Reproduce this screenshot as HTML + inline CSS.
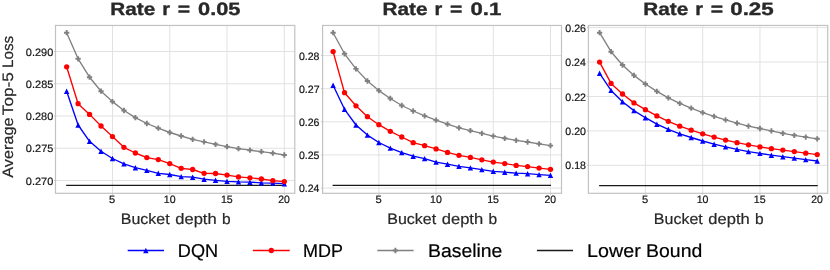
<!DOCTYPE html>
<html><head><meta charset="utf-8"><title>chart</title>
<style>html,body{margin:0;padding:0;background:#fff;}svg{display:block;will-change:transform;}</style></head>
<body>
<svg width="830" height="270" viewBox="0 0 830 270" font-family="Liberation Sans, sans-serif">
<rect width="830" height="270" fill="#fff"/>
<path d="M112.47,25.45V193.3M169.75,25.45V193.3M227.02,25.45V193.3M284.30,25.45V193.3M55.5,180.50H294.8M55.5,148.25H294.8M55.5,116.00H294.8M55.5,83.75H294.8M55.5,51.50H294.8" stroke="#e2e2e2" stroke-width="1" fill="none"/>
<path d="M112.47,193.3v1.5M169.75,193.3v1.5M227.02,193.3v1.5M284.30,193.3v1.5M55.5,180.50h-1.5M55.5,148.25h-1.5M55.5,116.00h-1.5M55.5,83.75h-1.5M55.5,51.50h-1.5" stroke="#c2c2c2" stroke-width="1" fill="none"/>
<path d="M66.15,185.4H284.80" stroke="#1a1a1a" stroke-width="1.35" fill="none"/>
<path d="M66.65,32.70L78.11,58.80L89.56,77.20L101.02,91.20L112.47,101.60L123.93,110.50L135.38,117.60L146.84,123.50L158.29,128.20L169.75,132.50L181.20,136.00L192.66,139.40L204.11,141.90L215.56,144.30L227.02,146.70L238.47,148.70L249.93,150.20L261.38,151.70L272.84,153.20L284.30,155.00" stroke="#808080" stroke-width="1.35" fill="none" stroke-linejoin="round"/>
<path d="M65.70,30.05h1.90v1.70h1.70v1.90h-1.70v1.70h-1.90v-1.70h-1.70v-1.90h1.70zM77.16,56.15h1.90v1.70h1.70v1.90h-1.70v1.70h-1.90v-1.70h-1.70v-1.90h1.70zM88.61,74.55h1.90v1.70h1.70v1.90h-1.70v1.70h-1.90v-1.70h-1.70v-1.90h1.70zM100.07,88.55h1.90v1.70h1.70v1.90h-1.70v1.70h-1.90v-1.70h-1.70v-1.90h1.70zM111.52,98.95h1.90v1.70h1.70v1.90h-1.70v1.70h-1.90v-1.70h-1.70v-1.90h1.70zM122.98,107.85h1.90v1.70h1.70v1.90h-1.70v1.70h-1.90v-1.70h-1.70v-1.90h1.70zM134.43,114.95h1.90v1.70h1.70v1.90h-1.70v1.70h-1.90v-1.70h-1.70v-1.90h1.70zM145.89,120.85h1.90v1.70h1.70v1.90h-1.70v1.70h-1.90v-1.70h-1.70v-1.90h1.70zM157.34,125.55h1.90v1.70h1.70v1.90h-1.70v1.70h-1.90v-1.70h-1.70v-1.90h1.70zM168.80,129.85h1.90v1.70h1.70v1.90h-1.70v1.70h-1.90v-1.70h-1.70v-1.90h1.70zM180.25,133.35h1.90v1.70h1.70v1.90h-1.70v1.70h-1.90v-1.70h-1.70v-1.90h1.70zM191.71,136.75h1.90v1.70h1.70v1.90h-1.70v1.70h-1.90v-1.70h-1.70v-1.90h1.70zM203.16,139.25h1.90v1.70h1.70v1.90h-1.70v1.70h-1.90v-1.70h-1.70v-1.90h1.70zM214.62,141.65h1.90v1.70h1.70v1.90h-1.70v1.70h-1.90v-1.70h-1.70v-1.90h1.70zM226.07,144.05h1.90v1.70h1.70v1.90h-1.70v1.70h-1.90v-1.70h-1.70v-1.90h1.70zM237.53,146.05h1.90v1.70h1.70v1.90h-1.70v1.70h-1.90v-1.70h-1.70v-1.90h1.70zM248.98,147.55h1.90v1.70h1.70v1.90h-1.70v1.70h-1.90v-1.70h-1.70v-1.90h1.70zM260.44,149.05h1.90v1.70h1.70v1.90h-1.70v1.70h-1.90v-1.70h-1.70v-1.90h1.70zM271.89,150.55h1.90v1.70h1.70v1.90h-1.70v1.70h-1.90v-1.70h-1.70v-1.90h1.70zM283.35,152.35h1.90v1.70h1.70v1.90h-1.70v1.70h-1.90v-1.70h-1.70v-1.90h1.70z" fill="#808080"/>
<path d="M66.65,91.20L78.11,125.00L89.56,141.30L101.02,151.20L112.47,158.50L123.93,163.90L135.38,167.70L146.84,170.40L158.29,173.30L169.75,174.50L181.20,176.60L192.66,177.20L204.11,179.20L215.56,180.30L227.02,181.30L238.47,181.90L249.93,182.20L261.38,182.80L272.84,183.10L284.30,183.70" stroke="#0000ff" stroke-width="1.35" fill="none" stroke-linejoin="round"/>
<path d="M66.65,88.50L69.35,93.90L63.95,93.90zM78.11,122.30L80.81,127.70L75.41,127.70zM89.56,138.60L92.26,144.00L86.86,144.00zM101.02,148.50L103.72,153.90L98.32,153.90zM112.47,155.80L115.17,161.20L109.77,161.20zM123.93,161.20L126.63,166.60L121.23,166.60zM135.38,165.00L138.08,170.40L132.68,170.40zM146.84,167.70L149.53,173.10L144.14,173.10zM158.29,170.60L160.99,176.00L155.59,176.00zM169.75,171.80L172.44,177.20L167.05,177.20zM181.20,173.90L183.90,179.30L178.50,179.30zM192.66,174.50L195.35,179.90L189.96,179.90zM204.11,176.50L206.81,181.90L201.41,181.90zM215.56,177.60L218.26,183.00L212.87,183.00zM227.02,178.60L229.72,184.00L224.32,184.00zM238.47,179.20L241.17,184.60L235.78,184.60zM249.93,179.50L252.63,184.90L247.23,184.90zM261.38,180.10L264.08,185.50L258.69,185.50zM272.84,180.40L275.54,185.80L270.14,185.80zM284.30,181.00L287.00,186.40L281.60,186.40z" fill="#0000ff"/>
<path d="M66.65,66.80L78.11,103.70L89.56,114.40L101.02,126.00L112.47,136.60L123.93,147.30L135.38,153.00L146.84,157.60L158.29,159.60L169.75,163.60L181.20,168.30L192.66,169.50L204.11,173.30L215.56,173.50L227.02,175.10L238.47,176.90L249.93,177.80L261.38,179.00L272.84,180.70L284.30,181.60" stroke="#ff0000" stroke-width="1.35" fill="none" stroke-linejoin="round"/>
<circle cx="66.65" cy="66.80" r="2.65" fill="#ff0000"/>
<circle cx="78.11" cy="103.70" r="2.65" fill="#ff0000"/>
<circle cx="89.56" cy="114.40" r="2.65" fill="#ff0000"/>
<circle cx="101.02" cy="126.00" r="2.65" fill="#ff0000"/>
<circle cx="112.47" cy="136.60" r="2.65" fill="#ff0000"/>
<circle cx="123.93" cy="147.30" r="2.65" fill="#ff0000"/>
<circle cx="135.38" cy="153.00" r="2.65" fill="#ff0000"/>
<circle cx="146.84" cy="157.60" r="2.65" fill="#ff0000"/>
<circle cx="158.29" cy="159.60" r="2.65" fill="#ff0000"/>
<circle cx="169.75" cy="163.60" r="2.65" fill="#ff0000"/>
<circle cx="181.20" cy="168.30" r="2.65" fill="#ff0000"/>
<circle cx="192.66" cy="169.50" r="2.65" fill="#ff0000"/>
<circle cx="204.11" cy="173.30" r="2.65" fill="#ff0000"/>
<circle cx="215.56" cy="173.50" r="2.65" fill="#ff0000"/>
<circle cx="227.02" cy="175.10" r="2.65" fill="#ff0000"/>
<circle cx="238.47" cy="176.90" r="2.65" fill="#ff0000"/>
<circle cx="249.93" cy="177.80" r="2.65" fill="#ff0000"/>
<circle cx="261.38" cy="179.00" r="2.65" fill="#ff0000"/>
<circle cx="272.84" cy="180.70" r="2.65" fill="#ff0000"/>
<circle cx="284.30" cy="181.60" r="2.65" fill="#ff0000"/>
<rect x="55.5" y="25.45" width="239.30" height="167.85" fill="none" stroke="#c2c2c2" stroke-width="1.2"/>
<text transform="translate(25.86,184.55) skewX(0.1)" font-size="10.7" fill="#141414" stroke="#141414" stroke-width="0.2" stroke-linejoin="round" textLength="27.45" lengthAdjust="spacingAndGlyphs">0.270</text>
<text transform="translate(25.86,152.30) skewX(0.1)" font-size="10.7" fill="#141414" stroke="#141414" stroke-width="0.2" stroke-linejoin="round" textLength="27.51" lengthAdjust="spacingAndGlyphs">0.275</text>
<text transform="translate(25.86,120.05) skewX(0.1)" font-size="10.7" fill="#141414" stroke="#141414" stroke-width="0.2" stroke-linejoin="round" textLength="27.45" lengthAdjust="spacingAndGlyphs">0.280</text>
<text transform="translate(25.86,87.80) skewX(0.1)" font-size="10.7" fill="#141414" stroke="#141414" stroke-width="0.2" stroke-linejoin="round" textLength="27.51" lengthAdjust="spacingAndGlyphs">0.285</text>
<text transform="translate(25.86,55.55) skewX(0.1)" font-size="10.7" fill="#141414" stroke="#141414" stroke-width="0.2" stroke-linejoin="round" textLength="27.45" lengthAdjust="spacingAndGlyphs">0.290</text>
<text transform="translate(109.12,203.00) skewX(0.1)" font-size="10.7" fill="#141414" stroke="#141414" stroke-width="0.2" stroke-linejoin="round" textLength="6.21" lengthAdjust="spacingAndGlyphs">5</text>
<text transform="translate(163.75,203.00) skewX(0.1)" font-size="10.7" fill="#141414" stroke="#141414" stroke-width="0.2" stroke-linejoin="round" textLength="11.79" lengthAdjust="spacingAndGlyphs">10</text>
<text transform="translate(220.92,203.00) skewX(0.1)" font-size="10.7" fill="#141414" stroke="#141414" stroke-width="0.2" stroke-linejoin="round" textLength="11.85" lengthAdjust="spacingAndGlyphs">15</text>
<text transform="translate(278.27,203.00) skewX(0.1)" font-size="10.7" fill="#141414" stroke="#141414" stroke-width="0.2" stroke-linejoin="round" textLength="11.61" lengthAdjust="spacingAndGlyphs">20</text>
<text transform="translate(110.35,15.20) skewX(0.1)" font-size="17.9" fill="#282828" font-weight="bold" stroke="#282828" stroke-width="0.35" stroke-linejoin="round" textLength="44.97" lengthAdjust="spacingAndGlyphs">Rate</text>
<text transform="translate(162.30,15.20) skewX(0.1)" font-size="17.9" fill="#282828" font-weight="bold" stroke="#282828" stroke-width="0.35" stroke-linejoin="round" textLength="7.78" lengthAdjust="spacingAndGlyphs">r</text>
<text transform="translate(177.76,15.20) skewX(0.1)" font-size="17.9" fill="#282828" font-weight="bold" stroke="#282828" stroke-width="0.35" stroke-linejoin="round" textLength="12.32" lengthAdjust="spacingAndGlyphs">=</text>
<text transform="translate(198.03,15.20) skewX(0.1)" font-size="17.9" fill="#282828" font-weight="bold" stroke="#282828" stroke-width="0.35" stroke-linejoin="round" textLength="42.45" lengthAdjust="spacingAndGlyphs">0.05</text>
<text transform="translate(120.72,223.50) skewX(0.1)" font-size="15.1" fill="#282828" stroke="#282828" stroke-width="0.2" stroke-linejoin="round" textLength="49.00" lengthAdjust="spacingAndGlyphs">Bucket</text>
<text transform="translate(175.24,223.50) skewX(0.1)" font-size="15.1" fill="#282828" stroke="#282828" stroke-width="0.2" stroke-linejoin="round" textLength="41.38" lengthAdjust="spacingAndGlyphs">depth</text>
<text transform="translate(221.89,223.50) skewX(0.1)" font-size="15.1" fill="#282828" stroke="#282828" stroke-width="0.2" stroke-linejoin="round" textLength="8.65" lengthAdjust="spacingAndGlyphs">b</text>
<path d="M378.87,25.45V193.3M436.08,25.45V193.3M493.29,25.45V193.3M550.50,25.45V193.3M322.6,188.10H561.5M322.6,154.95H561.5M322.6,121.80H561.5M322.6,88.65H561.5M322.6,55.50H561.5" stroke="#e2e2e2" stroke-width="1" fill="none"/>
<path d="M378.87,193.3v1.5M436.08,193.3v1.5M493.29,193.3v1.5M550.50,193.3v1.5M322.6,188.10h-1.5M322.6,154.95h-1.5M322.6,121.80h-1.5M322.6,88.65h-1.5M322.6,55.50h-1.5" stroke="#c2c2c2" stroke-width="1" fill="none"/>
<path d="M332.60,185.4H551.00" stroke="#1a1a1a" stroke-width="1.35" fill="none"/>
<path d="M333.10,32.70L344.54,53.80L355.98,68.90L367.43,81.00L378.87,90.60L390.31,98.50L401.75,105.50L413.19,111.00L424.64,115.90L436.08,120.20L447.52,124.20L458.96,127.80L470.40,130.70L481.85,133.40L493.29,136.10L504.73,138.30L516.17,140.40L527.61,142.00L539.06,143.80L550.50,145.60" stroke="#808080" stroke-width="1.35" fill="none" stroke-linejoin="round"/>
<path d="M332.15,30.05h1.90v1.70h1.70v1.90h-1.70v1.70h-1.90v-1.70h-1.70v-1.90h1.70zM343.59,51.15h1.90v1.70h1.70v1.90h-1.70v1.70h-1.90v-1.70h-1.70v-1.90h1.70zM355.03,66.25h1.90v1.70h1.70v1.90h-1.70v1.70h-1.90v-1.70h-1.70v-1.90h1.70zM366.48,78.35h1.90v1.70h1.70v1.90h-1.70v1.70h-1.90v-1.70h-1.70v-1.90h1.70zM377.92,87.95h1.90v1.70h1.70v1.90h-1.70v1.70h-1.90v-1.70h-1.70v-1.90h1.70zM389.36,95.85h1.90v1.70h1.70v1.90h-1.70v1.70h-1.90v-1.70h-1.70v-1.90h1.70zM400.80,102.85h1.90v1.70h1.70v1.90h-1.70v1.70h-1.90v-1.70h-1.70v-1.90h1.70zM412.24,108.35h1.90v1.70h1.70v1.90h-1.70v1.70h-1.90v-1.70h-1.70v-1.90h1.70zM423.69,113.25h1.90v1.70h1.70v1.90h-1.70v1.70h-1.90v-1.70h-1.70v-1.90h1.70zM435.13,117.55h1.90v1.70h1.70v1.90h-1.70v1.70h-1.90v-1.70h-1.70v-1.90h1.70zM446.57,121.55h1.90v1.70h1.70v1.90h-1.70v1.70h-1.90v-1.70h-1.70v-1.90h1.70zM458.01,125.15h1.90v1.70h1.70v1.90h-1.70v1.70h-1.90v-1.70h-1.70v-1.90h1.70zM469.45,128.05h1.90v1.70h1.70v1.90h-1.70v1.70h-1.90v-1.70h-1.70v-1.90h1.70zM480.90,130.75h1.90v1.70h1.70v1.90h-1.70v1.70h-1.90v-1.70h-1.70v-1.90h1.70zM492.34,133.45h1.90v1.70h1.70v1.90h-1.70v1.70h-1.90v-1.70h-1.70v-1.90h1.70zM503.78,135.65h1.90v1.70h1.70v1.90h-1.70v1.70h-1.90v-1.70h-1.70v-1.90h1.70zM515.22,137.75h1.90v1.70h1.70v1.90h-1.70v1.70h-1.90v-1.70h-1.70v-1.90h1.70zM526.66,139.35h1.90v1.70h1.70v1.90h-1.70v1.70h-1.90v-1.70h-1.70v-1.90h1.70zM538.11,141.15h1.90v1.70h1.70v1.90h-1.70v1.70h-1.90v-1.70h-1.70v-1.90h1.70zM549.55,142.95h1.90v1.70h1.70v1.90h-1.70v1.70h-1.90v-1.70h-1.70v-1.90h1.70z" fill="#808080"/>
<path d="M333.10,85.30L344.54,109.30L355.98,125.00L367.43,135.10L378.87,142.50L390.31,148.10L401.75,152.60L413.19,156.20L424.64,158.60L436.08,162.10L447.52,164.20L458.96,166.30L470.40,167.90L481.85,169.60L493.29,171.30L504.73,172.20L516.17,173.10L527.61,173.70L539.06,174.60L550.50,175.30" stroke="#0000ff" stroke-width="1.35" fill="none" stroke-linejoin="round"/>
<path d="M333.10,82.60L335.80,88.00L330.40,88.00zM344.54,106.60L347.24,112.00L341.84,112.00zM355.98,122.30L358.68,127.70L353.28,127.70zM367.43,132.40L370.13,137.80L364.73,137.80zM378.87,139.80L381.57,145.20L376.17,145.20zM390.31,145.40L393.01,150.80L387.61,150.80zM401.75,149.90L404.45,155.30L399.05,155.30zM413.19,153.50L415.89,158.90L410.49,158.90zM424.64,155.90L427.34,161.30L421.94,161.30zM436.08,159.40L438.78,164.80L433.38,164.80zM447.52,161.50L450.22,166.90L444.82,166.90zM458.96,163.60L461.66,169.00L456.26,169.00zM470.40,165.20L473.10,170.60L467.70,170.60zM481.85,166.90L484.55,172.30L479.15,172.30zM493.29,168.60L495.99,174.00L490.59,174.00zM504.73,169.50L507.43,174.90L502.03,174.90zM516.17,170.40L518.87,175.80L513.47,175.80zM527.61,171.00L530.31,176.40L524.91,176.40zM539.06,171.90L541.76,177.30L536.36,177.30zM550.50,172.60L553.20,178.00L547.80,178.00z" fill="#0000ff"/>
<path d="M333.10,51.60L344.54,92.70L355.98,105.80L367.43,116.70L378.87,124.70L390.31,131.30L401.75,137.00L413.19,142.70L424.64,145.70L436.08,148.90L447.52,152.40L458.96,155.30L470.40,157.40L481.85,159.80L493.29,162.10L504.73,163.60L516.17,165.40L527.61,166.60L539.06,168.10L550.50,169.30" stroke="#ff0000" stroke-width="1.35" fill="none" stroke-linejoin="round"/>
<circle cx="333.10" cy="51.60" r="2.65" fill="#ff0000"/>
<circle cx="344.54" cy="92.70" r="2.65" fill="#ff0000"/>
<circle cx="355.98" cy="105.80" r="2.65" fill="#ff0000"/>
<circle cx="367.43" cy="116.70" r="2.65" fill="#ff0000"/>
<circle cx="378.87" cy="124.70" r="2.65" fill="#ff0000"/>
<circle cx="390.31" cy="131.30" r="2.65" fill="#ff0000"/>
<circle cx="401.75" cy="137.00" r="2.65" fill="#ff0000"/>
<circle cx="413.19" cy="142.70" r="2.65" fill="#ff0000"/>
<circle cx="424.64" cy="145.70" r="2.65" fill="#ff0000"/>
<circle cx="436.08" cy="148.90" r="2.65" fill="#ff0000"/>
<circle cx="447.52" cy="152.40" r="2.65" fill="#ff0000"/>
<circle cx="458.96" cy="155.30" r="2.65" fill="#ff0000"/>
<circle cx="470.40" cy="157.40" r="2.65" fill="#ff0000"/>
<circle cx="481.85" cy="159.80" r="2.65" fill="#ff0000"/>
<circle cx="493.29" cy="162.10" r="2.65" fill="#ff0000"/>
<circle cx="504.73" cy="163.60" r="2.65" fill="#ff0000"/>
<circle cx="516.17" cy="165.40" r="2.65" fill="#ff0000"/>
<circle cx="527.61" cy="166.60" r="2.65" fill="#ff0000"/>
<circle cx="539.06" cy="168.10" r="2.65" fill="#ff0000"/>
<circle cx="550.50" cy="169.30" r="2.65" fill="#ff0000"/>
<rect x="322.6" y="25.45" width="238.90" height="167.85" fill="none" stroke="#c2c2c2" stroke-width="1.2"/>
<text transform="translate(298.88,192.15) skewX(0.1)" font-size="10.7" fill="#141414" stroke="#141414" stroke-width="0.2" stroke-linejoin="round" textLength="20.45" lengthAdjust="spacingAndGlyphs">0.24</text>
<text transform="translate(298.88,159.00) skewX(0.1)" font-size="10.7" fill="#141414" stroke="#141414" stroke-width="0.2" stroke-linejoin="round" textLength="20.56" lengthAdjust="spacingAndGlyphs">0.25</text>
<text transform="translate(298.88,125.85) skewX(0.1)" font-size="10.7" fill="#141414" stroke="#141414" stroke-width="0.2" stroke-linejoin="round" textLength="20.61" lengthAdjust="spacingAndGlyphs">0.26</text>
<text transform="translate(298.88,92.70) skewX(0.1)" font-size="10.7" fill="#141414" stroke="#141414" stroke-width="0.2" stroke-linejoin="round" textLength="20.67" lengthAdjust="spacingAndGlyphs">0.27</text>
<text transform="translate(298.88,59.55) skewX(0.1)" font-size="10.7" fill="#141414" stroke="#141414" stroke-width="0.2" stroke-linejoin="round" textLength="20.56" lengthAdjust="spacingAndGlyphs">0.28</text>
<text transform="translate(375.52,203.00) skewX(0.1)" font-size="10.7" fill="#141414" stroke="#141414" stroke-width="0.2" stroke-linejoin="round" textLength="6.21" lengthAdjust="spacingAndGlyphs">5</text>
<text transform="translate(430.08,203.00) skewX(0.1)" font-size="10.7" fill="#141414" stroke="#141414" stroke-width="0.2" stroke-linejoin="round" textLength="11.79" lengthAdjust="spacingAndGlyphs">10</text>
<text transform="translate(487.19,203.00) skewX(0.1)" font-size="10.7" fill="#141414" stroke="#141414" stroke-width="0.2" stroke-linejoin="round" textLength="11.85" lengthAdjust="spacingAndGlyphs">15</text>
<text transform="translate(544.48,203.00) skewX(0.1)" font-size="10.7" fill="#141414" stroke="#141414" stroke-width="0.2" stroke-linejoin="round" textLength="11.61" lengthAdjust="spacingAndGlyphs">20</text>
<text transform="translate(382.55,15.20) skewX(0.1)" font-size="17.9" fill="#282828" font-weight="bold" stroke="#282828" stroke-width="0.35" stroke-linejoin="round" textLength="44.97" lengthAdjust="spacingAndGlyphs">Rate</text>
<text transform="translate(434.50,15.20) skewX(0.1)" font-size="17.9" fill="#282828" font-weight="bold" stroke="#282828" stroke-width="0.35" stroke-linejoin="round" textLength="7.78" lengthAdjust="spacingAndGlyphs">r</text>
<text transform="translate(449.96,15.20) skewX(0.1)" font-size="17.9" fill="#282828" font-weight="bold" stroke="#282828" stroke-width="0.35" stroke-linejoin="round" textLength="12.32" lengthAdjust="spacingAndGlyphs">=</text>
<text transform="translate(470.51,15.20) skewX(0.1)" font-size="17.9" fill="#282828" font-weight="bold" stroke="#282828" stroke-width="0.35" stroke-linejoin="round" textLength="30.86" lengthAdjust="spacingAndGlyphs">0.1</text>
<text transform="translate(387.22,223.50) skewX(0.1)" font-size="15.1" fill="#282828" stroke="#282828" stroke-width="0.2" stroke-linejoin="round" textLength="49.00" lengthAdjust="spacingAndGlyphs">Bucket</text>
<text transform="translate(441.74,223.50) skewX(0.1)" font-size="15.1" fill="#282828" stroke="#282828" stroke-width="0.2" stroke-linejoin="round" textLength="41.38" lengthAdjust="spacingAndGlyphs">depth</text>
<text transform="translate(488.39,223.50) skewX(0.1)" font-size="15.1" fill="#282828" stroke="#282828" stroke-width="0.2" stroke-linejoin="round" textLength="8.65" lengthAdjust="spacingAndGlyphs">b</text>
<path d="M645.41,25.45V193.3M702.68,25.45V193.3M759.94,25.45V193.3M817.21,25.45V193.3M588.4,165.30H827.7M588.4,130.88H827.7M588.4,96.45H827.7M588.4,62.03H827.7M588.4,27.60H827.7" stroke="#e2e2e2" stroke-width="1" fill="none"/>
<path d="M645.41,193.3v1.5M702.68,193.3v1.5M759.94,193.3v1.5M817.21,193.3v1.5M588.4,165.30h-1.5M588.4,130.88h-1.5M588.4,96.45h-1.5M588.4,62.03h-1.5M588.4,27.60h-1.5" stroke="#c2c2c2" stroke-width="1" fill="none"/>
<path d="M599.10,185.6H817.71" stroke="#1a1a1a" stroke-width="1.35" fill="none"/>
<path d="M599.60,32.70L611.05,51.70L622.51,65.00L633.96,75.40L645.41,84.00L656.87,91.40L668.32,97.90L679.77,103.40L691.22,108.20L702.68,112.60L714.13,116.40L725.58,119.90L737.04,123.20L748.49,126.10L759.94,128.50L771.39,130.90L782.85,133.30L794.30,135.30L805.75,137.10L817.21,138.80" stroke="#808080" stroke-width="1.35" fill="none" stroke-linejoin="round"/>
<path d="M598.65,30.05h1.90v1.70h1.70v1.90h-1.70v1.70h-1.90v-1.70h-1.70v-1.90h1.70zM610.10,49.05h1.90v1.70h1.70v1.90h-1.70v1.70h-1.90v-1.70h-1.70v-1.90h1.70zM621.56,62.35h1.90v1.70h1.70v1.90h-1.70v1.70h-1.90v-1.70h-1.70v-1.90h1.70zM633.01,72.75h1.90v1.70h1.70v1.90h-1.70v1.70h-1.90v-1.70h-1.70v-1.90h1.70zM644.46,81.35h1.90v1.70h1.70v1.90h-1.70v1.70h-1.90v-1.70h-1.70v-1.90h1.70zM655.91,88.75h1.90v1.70h1.70v1.90h-1.70v1.70h-1.90v-1.70h-1.70v-1.90h1.70zM667.37,95.25h1.90v1.70h1.70v1.90h-1.70v1.70h-1.90v-1.70h-1.70v-1.90h1.70zM678.82,100.75h1.90v1.70h1.70v1.90h-1.70v1.70h-1.90v-1.70h-1.70v-1.90h1.70zM690.27,105.55h1.90v1.70h1.70v1.90h-1.70v1.70h-1.90v-1.70h-1.70v-1.90h1.70zM701.73,109.95h1.90v1.70h1.70v1.90h-1.70v1.70h-1.90v-1.70h-1.70v-1.90h1.70zM713.18,113.75h1.90v1.70h1.70v1.90h-1.70v1.70h-1.90v-1.70h-1.70v-1.90h1.70zM724.63,117.25h1.90v1.70h1.70v1.90h-1.70v1.70h-1.90v-1.70h-1.70v-1.90h1.70zM736.09,120.55h1.90v1.70h1.70v1.90h-1.70v1.70h-1.90v-1.70h-1.70v-1.90h1.70zM747.54,123.45h1.90v1.70h1.70v1.90h-1.70v1.70h-1.90v-1.70h-1.70v-1.90h1.70zM758.99,125.85h1.90v1.70h1.70v1.90h-1.70v1.70h-1.90v-1.70h-1.70v-1.90h1.70zM770.44,128.25h1.90v1.70h1.70v1.90h-1.70v1.70h-1.90v-1.70h-1.70v-1.90h1.70zM781.90,130.65h1.90v1.70h1.70v1.90h-1.70v1.70h-1.90v-1.70h-1.70v-1.90h1.70zM793.35,132.65h1.90v1.70h1.70v1.90h-1.70v1.70h-1.90v-1.70h-1.70v-1.90h1.70zM804.80,134.45h1.90v1.70h1.70v1.90h-1.70v1.70h-1.90v-1.70h-1.70v-1.90h1.70zM816.26,136.15h1.90v1.70h1.70v1.90h-1.70v1.70h-1.90v-1.70h-1.70v-1.90h1.70z" fill="#808080"/>
<path d="M599.60,73.30L611.05,90.40L622.51,101.70L633.96,110.60L645.41,117.70L656.87,124.20L668.32,129.30L679.77,133.80L691.22,137.50L702.68,141.00L714.13,144.20L725.58,146.90L737.04,149.30L748.49,151.60L759.94,153.40L771.39,155.20L782.85,156.70L794.30,158.10L805.75,159.60L817.21,161.00" stroke="#0000ff" stroke-width="1.35" fill="none" stroke-linejoin="round"/>
<path d="M599.60,70.60L602.30,76.00L596.90,76.00zM611.05,87.70L613.75,93.10L608.35,93.10zM622.51,99.00L625.21,104.40L619.81,104.40zM633.96,107.90L636.66,113.30L631.26,113.30zM645.41,115.00L648.11,120.40L642.71,120.40zM656.87,121.50L659.57,126.90L654.16,126.90zM668.32,126.60L671.02,132.00L665.62,132.00zM679.77,131.10L682.47,136.50L677.07,136.50zM691.22,134.80L693.92,140.20L688.52,140.20zM702.68,138.30L705.38,143.70L699.98,143.70zM714.13,141.50L716.83,146.90L711.43,146.90zM725.58,144.20L728.28,149.60L722.88,149.60zM737.04,146.60L739.74,152.00L734.34,152.00zM748.49,148.90L751.19,154.30L745.79,154.30zM759.94,150.70L762.64,156.10L757.24,156.10zM771.39,152.50L774.10,157.90L768.69,157.90zM782.85,154.00L785.55,159.40L780.15,159.40zM794.30,155.40L797.00,160.80L791.60,160.80zM805.75,156.90L808.45,162.30L803.05,162.30zM817.21,158.30L819.91,163.70L814.51,163.70z" fill="#0000ff"/>
<path d="M599.60,62.10L611.05,83.40L622.51,94.00L633.96,102.90L645.41,109.70L656.87,115.90L668.32,121.30L679.77,126.20L691.22,130.20L702.68,133.80L714.13,137.10L725.58,140.10L737.04,142.70L748.49,144.80L759.94,146.90L771.39,148.70L782.85,150.10L794.30,151.60L805.75,153.20L817.21,154.60" stroke="#ff0000" stroke-width="1.35" fill="none" stroke-linejoin="round"/>
<circle cx="599.60" cy="62.10" r="2.65" fill="#ff0000"/>
<circle cx="611.05" cy="83.40" r="2.65" fill="#ff0000"/>
<circle cx="622.51" cy="94.00" r="2.65" fill="#ff0000"/>
<circle cx="633.96" cy="102.90" r="2.65" fill="#ff0000"/>
<circle cx="645.41" cy="109.70" r="2.65" fill="#ff0000"/>
<circle cx="656.87" cy="115.90" r="2.65" fill="#ff0000"/>
<circle cx="668.32" cy="121.30" r="2.65" fill="#ff0000"/>
<circle cx="679.77" cy="126.20" r="2.65" fill="#ff0000"/>
<circle cx="691.22" cy="130.20" r="2.65" fill="#ff0000"/>
<circle cx="702.68" cy="133.80" r="2.65" fill="#ff0000"/>
<circle cx="714.13" cy="137.10" r="2.65" fill="#ff0000"/>
<circle cx="725.58" cy="140.10" r="2.65" fill="#ff0000"/>
<circle cx="737.04" cy="142.70" r="2.65" fill="#ff0000"/>
<circle cx="748.49" cy="144.80" r="2.65" fill="#ff0000"/>
<circle cx="759.94" cy="146.90" r="2.65" fill="#ff0000"/>
<circle cx="771.39" cy="148.70" r="2.65" fill="#ff0000"/>
<circle cx="782.85" cy="150.10" r="2.65" fill="#ff0000"/>
<circle cx="794.30" cy="151.60" r="2.65" fill="#ff0000"/>
<circle cx="805.75" cy="153.20" r="2.65" fill="#ff0000"/>
<circle cx="817.21" cy="154.60" r="2.65" fill="#ff0000"/>
<rect x="588.4" y="25.45" width="239.30" height="167.85" fill="none" stroke="#c2c2c2" stroke-width="1.2"/>
<text transform="translate(565.28,169.35) skewX(0.1)" font-size="10.7" fill="#141414" stroke="#141414" stroke-width="0.2" stroke-linejoin="round" textLength="20.66" lengthAdjust="spacingAndGlyphs">0.18</text>
<text transform="translate(565.28,134.93) skewX(0.1)" font-size="10.7" fill="#141414" stroke="#141414" stroke-width="0.2" stroke-linejoin="round" textLength="20.66" lengthAdjust="spacingAndGlyphs">0.20</text>
<text transform="translate(565.27,100.50) skewX(0.1)" font-size="10.7" fill="#141414" stroke="#141414" stroke-width="0.2" stroke-linejoin="round" textLength="20.77" lengthAdjust="spacingAndGlyphs">0.22</text>
<text transform="translate(565.28,66.08) skewX(0.1)" font-size="10.7" fill="#141414" stroke="#141414" stroke-width="0.2" stroke-linejoin="round" textLength="20.55" lengthAdjust="spacingAndGlyphs">0.24</text>
<text transform="translate(565.27,31.65) skewX(0.1)" font-size="10.7" fill="#141414" stroke="#141414" stroke-width="0.2" stroke-linejoin="round" textLength="20.72" lengthAdjust="spacingAndGlyphs">0.26</text>
<text transform="translate(642.07,203.00) skewX(0.1)" font-size="10.7" fill="#141414" stroke="#141414" stroke-width="0.2" stroke-linejoin="round" textLength="6.21" lengthAdjust="spacingAndGlyphs">5</text>
<text transform="translate(696.68,203.00) skewX(0.1)" font-size="10.7" fill="#141414" stroke="#141414" stroke-width="0.2" stroke-linejoin="round" textLength="11.79" lengthAdjust="spacingAndGlyphs">10</text>
<text transform="translate(753.84,203.00) skewX(0.1)" font-size="10.7" fill="#141414" stroke="#141414" stroke-width="0.2" stroke-linejoin="round" textLength="11.85" lengthAdjust="spacingAndGlyphs">15</text>
<text transform="translate(811.19,203.00) skewX(0.1)" font-size="10.7" fill="#141414" stroke="#141414" stroke-width="0.2" stroke-linejoin="round" textLength="11.61" lengthAdjust="spacingAndGlyphs">20</text>
<text transform="translate(643.25,15.20) skewX(0.1)" font-size="17.9" fill="#282828" font-weight="bold" stroke="#282828" stroke-width="0.35" stroke-linejoin="round" textLength="44.97" lengthAdjust="spacingAndGlyphs">Rate</text>
<text transform="translate(695.20,15.20) skewX(0.1)" font-size="17.9" fill="#282828" font-weight="bold" stroke="#282828" stroke-width="0.35" stroke-linejoin="round" textLength="7.78" lengthAdjust="spacingAndGlyphs">r</text>
<text transform="translate(710.66,15.20) skewX(0.1)" font-size="17.9" fill="#282828" font-weight="bold" stroke="#282828" stroke-width="0.35" stroke-linejoin="round" textLength="12.32" lengthAdjust="spacingAndGlyphs">=</text>
<text transform="translate(730.20,15.20) skewX(0.1)" font-size="17.9" fill="#282828" font-weight="bold" stroke="#282828" stroke-width="0.35" stroke-linejoin="round" textLength="43.59" lengthAdjust="spacingAndGlyphs">0.25</text>
<text transform="translate(653.82,223.50) skewX(0.1)" font-size="15.1" fill="#282828" stroke="#282828" stroke-width="0.2" stroke-linejoin="round" textLength="49.00" lengthAdjust="spacingAndGlyphs">Bucket</text>
<text transform="translate(708.34,223.50) skewX(0.1)" font-size="15.1" fill="#282828" stroke="#282828" stroke-width="0.2" stroke-linejoin="round" textLength="41.38" lengthAdjust="spacingAndGlyphs">depth</text>
<text transform="translate(754.99,223.50) skewX(0.1)" font-size="15.1" fill="#282828" stroke="#282828" stroke-width="0.2" stroke-linejoin="round" textLength="8.65" lengthAdjust="spacingAndGlyphs">b</text>
<text transform="translate(13.00,177.60) rotate(-90) skewX(0.1)" x="-0.08" y="0" font-size="15.1" fill="#282828" stroke="#282828" stroke-width="0.2" stroke-linejoin="round" textLength="60.14" lengthAdjust="spacingAndGlyphs">Average</text>
<text transform="translate(13.00,114.80) rotate(-90) skewX(0.1)" x="-0.43" y="0" font-size="15.1" fill="#282828" stroke="#282828" stroke-width="0.2" stroke-linejoin="round" textLength="43.15" lengthAdjust="spacingAndGlyphs">Top-5</text>
<text transform="translate(13.00,66.70) rotate(-90) skewX(0.1)" x="-1.22" y="0" font-size="15.1" fill="#282828" stroke="#282828" stroke-width="0.2" stroke-linejoin="round" textLength="32.08" lengthAdjust="spacingAndGlyphs">Loss</text>
<path d="M127.7,250.5H164" stroke="#0000ff" stroke-width="1.35" fill="none"/>
<path d="M145.85,247.80L148.55,253.20L143.15,253.20z" fill="#0000ff"/>
<path d="M252.9,250.5H289.7" stroke="#ff0000" stroke-width="1.35" fill="none"/>
<circle cx="271.3" cy="250.5" r="2.65" fill="#ff0000"/>
<path d="M377.3,250.5H413.6" stroke="#808080" stroke-width="1.35" fill="none"/>
<path d="M394.45,247.85h1.90v1.70h1.70v1.90h-1.70v1.70h-1.90v-1.70h-1.70v-1.90h1.70z" fill="#808080"/>
<path d="M536.9,250.5H573" stroke="#1a1a1a" stroke-width="1.35" fill="none"/>
<text transform="translate(177.85,256.60) skewX(0.1)" font-size="18.5" fill="#000" stroke="#000" stroke-width="0.2" stroke-linejoin="round" textLength="40.34" lengthAdjust="spacingAndGlyphs">DQN</text>
<text transform="translate(303.06,256.60) skewX(0.1)" font-size="18.5" fill="#000" stroke="#000" stroke-width="0.2" stroke-linejoin="round" textLength="40.03" lengthAdjust="spacingAndGlyphs">MDP</text>
<text transform="translate(428.05,256.60) skewX(0.1)" font-size="18.5" fill="#000" stroke="#000" stroke-width="0.2" stroke-linejoin="round" textLength="74.34" lengthAdjust="spacingAndGlyphs">Baseline</text>
<text transform="translate(587.12,256.60) skewX(0.1)" font-size="18.5" fill="#000" stroke="#000" stroke-width="0.2" stroke-linejoin="round" textLength="53.75" lengthAdjust="spacingAndGlyphs">Lower</text>
<text transform="translate(646.04,256.60) skewX(0.1)" font-size="18.5" fill="#000" stroke="#000" stroke-width="0.2" stroke-linejoin="round" textLength="56.25" lengthAdjust="spacingAndGlyphs">Bound</text>
</svg>
</body></html>
